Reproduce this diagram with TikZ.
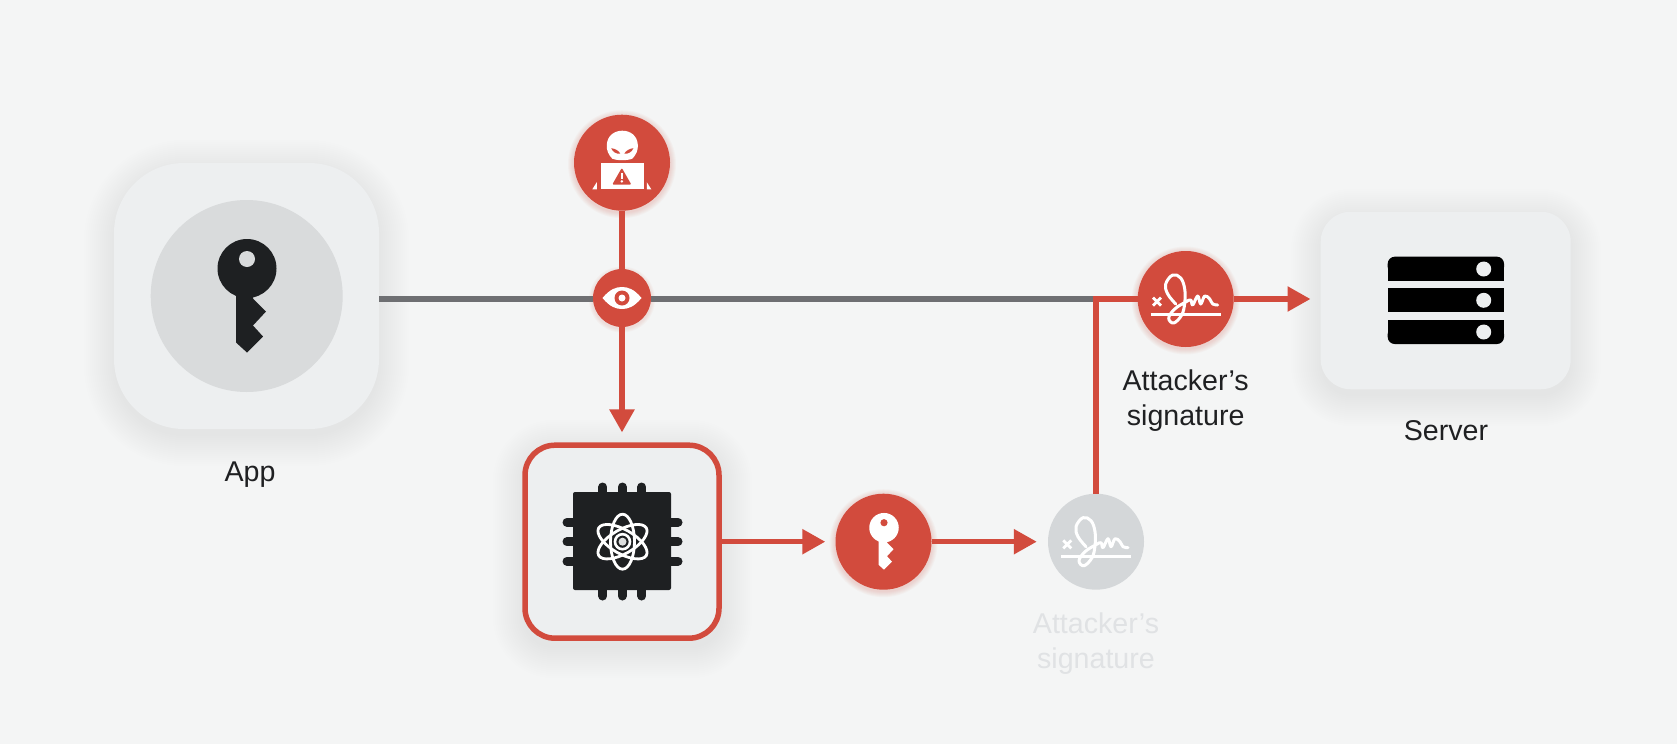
\documentclass[tikz,border=0pt]{standalone}
\usepackage{fontspec}
\setmainfont{Liberation Sans}
\usetikzlibrary{arrows.meta}
\definecolor{bgc}{HTML}{F4F5F5}
\definecolor{boxc}{HTML}{EDEFF0}
\definecolor{redc}{HTML}{D24B3D}
\definecolor{darkc}{HTML}{1E2022}
\definecolor{greyl}{HTML}{6E6F72}
\definecolor{discc}{HTML}{D9DBDC}
\definecolor{sigc}{HTML}{D4D7D9}
\definecolor{fadet}{HTML}{E0E2E4}
\definecolor{textc}{HTML}{1F2022}
\newcommand{\softshadow}[5]{%
  \foreach \s in {0,2,...,30}{%
    \pgfmathsetmacro\rr{#5+\s}%
    \fill[black,opacity=.0032,rounded corners=\rr pt] (#1-\s,#2-\s+7) rectangle (#3+\s,#4+\s+7);
  }}
\newcommand{\redglow}[2]{%
  \foreach \s in {49,50,...,54}{%
    \fill[redc,opacity=.035] (#1,#2+1.5) circle[radius=\s];
  }}
\tikzset{
  labeltext/.style={font=\fontsize{28.6}{35}\selectfont,text=textc,align=center,inner sep=0},
  fadetext/.style={labeltext,text=fadet},
  softbox/.style={rectangle,fill=boxc,inner sep=0},
  disc/.style={circle,fill=redc,minimum size=96,inner sep=0},
  greydisc/.style={disc,fill=sigc},
  tinydisc/.style={disc,minimum size=58},
  redline/.style={draw=redc,line width=5.4},
  greyline/.style={draw=greyl,line width=5.4},
  redarrow/.style={redline,-{Triangle[length=23,width=24]}},
  keyshape/.pic={
    \fill[pic actions] (0,0) circle[radius=29.5];
    \fill[pic actions] (-11,20) -- (-11,74) -- (0,84) -- (16,68) -- (6,57) -- (19,43) -- (6,30) -- (6,20) -- cycle;
  },
  sigmark/.pic={
    \draw[white,line width=3] (-35,15) -- (35,15);
    \draw[white,line width=2.8] (-32.7,-1.3) -- (-24.7,6.7) (-32.7,6.7) -- (-24.7,-1.3);
    \draw[white,line width=3,line cap=round,line join=round] plot[smooth,tension=.65] coordinates {
      (-10,5) (-18,-5) (-20,-15) (-13,-24) (-5,-21) (-1,-10) (-1,4) (-4,16) (-12,24) (-17,19) (-11,10) (0,3) (5,1) (7,6) (12,-3) (15,5) (19,-3) (24,0) (27,5) (32,6)};
  },
}
\begin{document}
\begin{tikzpicture}[x=1pt,y=-1pt]
\fill[bgc] (0,0) rectangle (1677,744);
\useasboundingbox (0,0) rectangle (1677,744);
% soft shadows and glows
\softshadow{114}{163}{379}{429}{70}
\softshadow{523}{443}{722}{641}{30}
\softshadow{1321}{212}{1571}{389}{30}
\redglow{622}{162.7}
\redglow{883.5}{541.7}
\redglow{1185.7}{299}
\foreach \s in {30,31,32,33}{\fill[redc,opacity=.035] (622,299.5) circle[radius=\s];}
% nodes
\node[softbox,rounded corners=70,minimum width=265,minimum height=266] (app) at (246.5,296) {};
\node[circle,fill=discc,minimum size=192,inner sep=0] (appdisc) at (246.7,296) {};
\node[softbox,rounded corners=30,minimum width=194,minimum height=193,draw=redc,line width=5.5] (chip) at (622,541.7) {};
\node[softbox,rounded corners=30,minimum width=250,minimum height=177.5] (server) at (1445.7,300.5) {};
\node[disc] (hacker) at (622,162.7) {};
\node[tinydisc] (eye) at (622,298) {};
\node[disc] (key) at (883.5,541.7) {};
\node[greydisc] (ghost) at (1096,541.7) {};
\node[disc] (sig) at (1185.7,299) {};
\coordinate (junction) at (1096,299);
% labels
\node[labeltext,anchor=base] (applabel) at (250,481.5) {App};
\node[labeltext,anchor=base] (serverlabel) at (1446,440.5) {Server};
\node[labeltext,anchor=base] (siglabel1) at (1185.7,390) {Attacker’s};
\node[labeltext,anchor=base] (siglabel2) at (1185.7,425) {signature};
\node[fadetext,anchor=base] (ghostlabel1) at (1096,633) {Attacker’s};
\node[fadetext,anchor=base] (ghostlabel2) at (1096,668) {signature};
% connectors
\draw[greyline] (app.east |- junction) -- (eye.west |- junction);
\draw[greyline] (eye.east |- junction) -- (junction);
\draw[redline] (hacker.south) -- (eye.north);
\draw[redarrow,shorten >=10] (eye.south) -- (chip.north);
\draw[redarrow,shorten >=10] (chip.east) -- (key.west);
\draw[redarrow,shorten >=11] (key.east) -- (ghost.west);
\draw[redline] (ghost.north) -- (junction) -- (sig.west);
\draw[redarrow,shorten >=10] (sig.east) -- (sig.east -| server.west);
% app key
\pic[fill=darkc] at (247,268.5) {keyshape};
\fill[discc] (247,259) circle[radius=8];
% small key
\pic[fill=white,scale=.5] at (884,527.7) {keyshape};
\fill[redc] (884,522.7) circle[radius=3.6];
% signatures
\pic at (1185.7,299) {sigmark};
\pic at (1096,541.7) {sigmark};
% server icon
\fill[black,rounded corners=7] (1387.7,256.7) rectangle (1504,274);
\fill[black] (1387.7,266) rectangle (1504,280.7);
\fill[black] (1387.7,288.3) rectangle (1504,311.7);
\fill[black,rounded corners=7] (1387.7,327) rectangle (1504,344);
\fill[black] (1387.7,320) rectangle (1504,335);
\foreach \y in {269,300.3,332}{\fill[boxc] (1483.7,\y) circle[radius=7.5];}
% chip icon
\foreach \p in {-19.5,0,19.5}{
  \draw[darkc,line width=9,line cap=round] (622.3+\p,487) -- (622.3+\p,596);
  \draw[darkc,line width=9,line cap=round] (567,541.7+\p) -- (678,541.7+\p);
}
\fill[darkc,rounded corners=2] (573,492) rectangle (671,590);
\foreach \a in {0,60,120}{
  \draw[white,line width=2.8,rotate around={\a:(622.5,541.7)}] (622.5,541.7) ellipse[x radius=12,y radius=27.5];
}
\fill[darkc] (622.5,541.7) circle[radius=10];
\draw[white,line width=2.6] (622.5,541.7) circle[radius=7.5];
\fill[white!85!darkc] (622.5,541.7) circle[radius=4];
% eye icon
\fill[white] (602.5,298) .. controls (610,289) and (616,287) .. (622,287) .. controls (628,287) and (634,289) .. (641.5,298) .. controls (634,307) and (628,309) .. (622,309) .. controls (616,309) and (610,307) .. (602.5,298) -- cycle;
\fill[redc] (622,298) circle[radius=7.5];
\fill[white] (622,298) circle[radius=3.5];
% hacker icon
\begin{scope}[shift={(622.3,162.7)}]
  \fill[white] (-10,-4) .. controls (-14,-8) and (-16,-13) .. (-15.5,-18) .. controls (-15,-27) and (-8,-32) .. (0,-32) .. controls (8,-32) and (15,-27) .. (15.5,-18) .. controls (16,-13) and (14,-8) .. (10,-4) .. controls (5,-2) and (-5,-2) .. (-10,-4) -- cycle;
  \fill[redc] (-11,-14.5) .. controls (-7,-14) and (-3.5,-12) .. (-2,-9) .. controls (-6,-8.5) and (-10,-11) .. (-11,-14.5) -- cycle;
  \fill[redc] (11,-14.5) .. controls (7,-14) and (3.5,-12) .. (2,-9) .. controls (6,-8.5) and (10,-11) .. (11,-14.5) -- cycle;
  \fill[white] (-21.6,0) rectangle (22,26.6);
  \fill[redc,rounded corners=1] (-.5,5.2) -- (-10,21.8) -- (9,21.8) -- cycle;
  \fill[white] (-1.7,10) rectangle (.7,16.5);
  \fill[white] (-.5,18.7) circle[radius=1.4];
  \fill[white] (-30,26.6) -- (-25.5,26.6) -- (-25.5,19.5) -- cycle;
  \fill[white] (24.5,26.6) -- (29,26.6) -- (24.5,19.5) -- cycle;
\end{scope}
\end{tikzpicture}
\end{document}
